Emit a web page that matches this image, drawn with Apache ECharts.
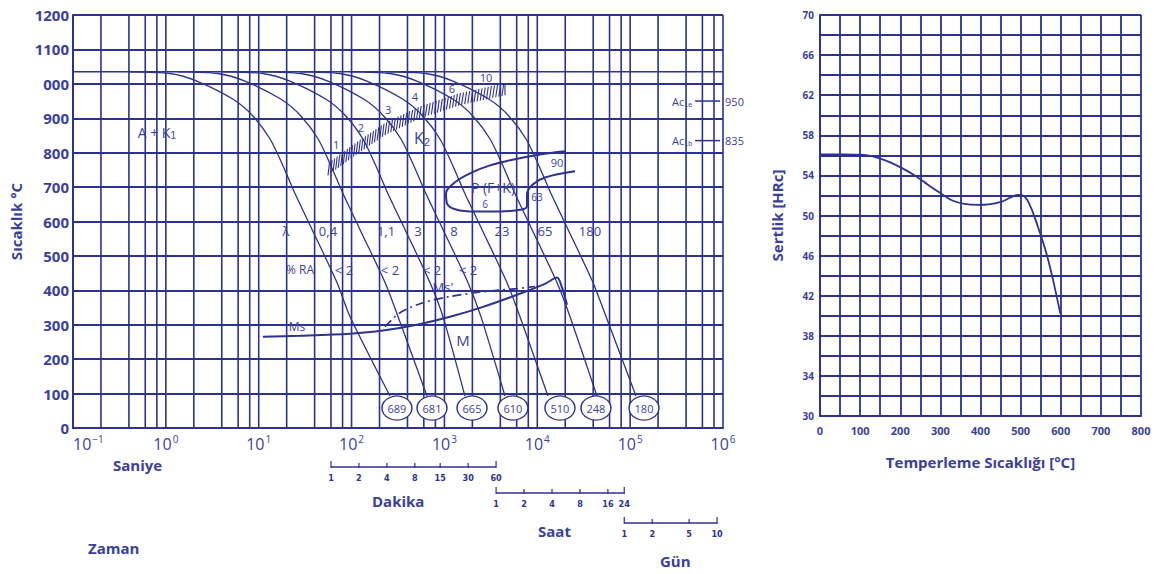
<!DOCTYPE html>
<html><head><meta charset="utf-8">
<script src="https://cdn.jsdelivr.net/npm/echarts@6/dist/echarts.min.js"></script>
<style>html,body{margin:0;padding:0;background:#fff}#c{width:1162px;height:574px}</style>
</head><body><div id="c"></div>
<script>
const INK = '#2d3190';
const TXT = '#3a3f9c';
const FONT = '"Open Sans","Noto Sans",sans-serif';

// ---------- left chart (CCT diagram): time [s] (log) vs temperature [°C]
const yTickLabels = ['0','100','200','300','400','500','600','700','800','900','000','1100','1200'];
const xTickExps = ['\u22121','0','1','2','3','4','5','6'];
const austenitizeTemp = 1035;

const coolA = [[0.41,1035],[1.11,1030],[2.16,1008],[5.3,955],[8.7,906],[13.3,839],[18.4,760],[24.8,679],[37.5,577],[69.8,422],[96.4,323],[259,93]];
const coolB = [[1.35,1035],[3.64,1030],[7.1,1008],[17.4,955],[28.6,906],[43.8,839],[60.4,760],[81.5,679],[123,577],[230,422],[317,323],[649,93]];
const coolC = [[4.12,1035],[11.1,1030],[21.6,1008],[53.1,955],[87.1,906],[133,839],[184,760],[248,679],[376,577],[700,422],[966,323],[1663,93]];
const coolD = [[10.6,1035],[28.4,1030],[55.5,1008],[136,955],[223,906],[342,839],[472,760],[637,679],[964,577],[1795,422],[2477,323],[4487,93]];
const coolE = [[27.8,1035],[74.8,1030],[146,1008],[358,955],[587,906],[899,839],[1242,760],[1675,679],[2535,577],[4721,422],[6516,323],[13030,93]];
const coolF = [[96.2,1035],[259,1030],[505,1008],[1239,955],[2032,906],[3112,839],[4295,760],[5794,679],[8770,577],[16330,422],[22540,323],[43950,93]];
const coolG = [[235,1035],[632,1030],[1233,1008],[3027,955],[4966,906],[7603,839],[10500,760],[14160,679],[21430,577],[39900,422],[55080,323],[115600,93]];

const msLine = [[11.1,265],[27.9,268],[96,274],[218,283],[506,300],[1148,323],[2603,352],[6040,387],[12100,419],[16300,437],[18460,408],[20900,358]];
const msPrimeLine = [[229,294],[332,335],[587,364],[1148,382],[2603,396],[6040,405],[9440,411]];
const pearliteNose = [[19860,804],[10690,795],[5750,781],[3100,763],[1885,740],[1300,714],[1040,682],[1067,652],[1330,635],[2133,629],[3963,629],[6839,635],[7745,644],[7745,679],[8990,708],[12100,728],[25470,746]];

const bandTimes = [55.7,109,229,546,1472,4487];
const bandLow   = [734,792,851,900,938,967];
const bandHigh  = [769,827,886,935,973,1002];

const circleHV = [689,681,665,610,510,248,180];
const circleTimes = [308,735,1982,5470,17540,42850,141000];
const circleTemp = 58;

const acTemps = [950,835];
const acSubs = ['1e','1b'];

const noteTexts = ['A + K{s|1}','K{s|2}','P (F+K)','\u03bb','0,4','1,1','3','8','23','65','180',
  '% RA','< 2','< 2','< 2','< 2','Ms','Ms\'','M','1','2','3','4','6','10','90','63','6'];
const noteTimes = [0.80,573,3334,19.7,55.7,235,519,1268,4169,12100,36980,
  27.9,82.8,259,735,1795,25.8,964,1585,68,126,247,482,1205,2806,16300,9930,2735];
const noteTemps = [859,842,699,571,571,571,571,571,571,571,571,
  460,460,460,460,460,294,411,256,824,874,926,964,985,1017,772,670,650];
const noteSizes = [14,16,14,13,13,13,13,13,13,13,13,12,13,13,13,13,12,13,15,11,11,11,11,11,11,11,10,10];

const minuteTicks = [1,2,4,8,15,30,60];
const hourTicks = [1,2,4,8,16,24];
const dayTicks = [1,2,5,10];

// ---------- right chart: tempering curve
const temperTemps = [0,60,110,140,175,210,240,268,290,309,330,360,392,420,451,475,492,505,521,542,563,580,599];
const hardnessHRC = [56.1,56.1,56.05,55.8,55.3,54.6,53.9,53.1,52.5,52.0,51.5,51.15,51.05,51.1,51.35,51.8,52.05,52.0,51.2,49.0,46.4,43.7,40.2];

// vertical grid of the log axis: 2,4,6,8,10 per decade
const gridTimes = [0.1];
for (let e = -1; e <= 5; e++) for (const m of [2,4,6,8,10]) gridTimes.push(+(m * Math.pow(10, e)).toPrecision(3));

function along(pts, f) {
  const seg = []; let L = 0;
  for (let i = 1; i < pts.length; i++) { const d = Math.hypot(pts[i][0]-pts[i-1][0], pts[i][1]-pts[i-1][1]); seg.push(d); L += d; }
  let t = Math.max(0, Math.min(1, f)) * L;
  for (let i = 0; i < seg.length; i++) {
    if (t <= seg[i] || i === seg.length - 1) {
      const r = Math.min(1, t / seg[i]);
      return [pts[i][0] + (pts[i+1][0]-pts[i][0])*r, pts[i][1] + (pts[i+1][1]-pts[i][1])*r];
    }
    t -= seg[i];
  }
}

const curveStyle = { color: INK, width: 1.3 };
function cool(data) {
  return { type: 'line', data, xAxisIndex: 0, yAxisIndex: 0, symbol: 'none', smooth: 0.25,
    lineStyle: curveStyle, z: 3, silent: true };
}

const chart = echarts.init(document.getElementById('c'), null, { renderer: 'svg' });
chart.setOption({
  animation: false,
  backgroundColor: '#fff',
  grid: [
    { left: 73, right: 439, top: 15, bottom: 146 },
    { left: 820, right: 21, top: 15, bottom: 158 }
  ],
  xAxis: [
    { type: 'log', logBase: 10, min: 0.1, max: 1e6, interval: 1, gridIndex: 0,
      axisLine: { show: true, lineStyle: { color: INK, width: 2 } },
      axisTick: { show: false }, splitLine: { show: false },
      axisLabel: { margin: 6, color: TXT, fontFamily: FONT, alignMinLabel: 'left',
        formatter: v => '{b|10}{s|' + xTickExps[Math.round(Math.log10(v)) + 1] + '}',
        rich: { b: { fontSize: 16, color: TXT, fontFamily: FONT }, s: { fontSize: 10, color: TXT, fontFamily: FONT, padding: [0,0,10,1] } } } },
    { type: 'value', min: 0, max: 800, interval: 50, gridIndex: 1,
      name: 'Temperleme Sıcaklığı [°C]', nameLocation: 'middle', nameGap: 38,
      nameTextStyle: { color: TXT, fontSize: 15, fontWeight: 'bold', fontFamily: FONT },
      axisLine: { show: true, lineStyle: { color: INK, width: 2 } },
      axisTick: { show: false },
      splitLine: { show: true, lineStyle: { color: INK, width: 1.8 } },
      axisLabel: { color: TXT, fontSize: 11, fontWeight: 'bold', fontFamily: FONT, margin: 9,
        formatter: v => (v % 100 === 0 ? String(v) : '') } }
  ],
  yAxis: [
    { type: 'value', min: 0, max: 1200, interval: 100, gridIndex: 0,
      name: 'Sıcaklık °C', nameLocation: 'middle', nameGap: 50,
      nameTextStyle: { color: TXT, fontSize: 15, fontWeight: 'bold', fontFamily: FONT },
      axisLine: { show: true, lineStyle: { color: INK, width: 2 } },
      axisTick: { show: false },
      splitLine: { show: true, lineStyle: { color: INK, width: 1.8 } },
      axisLabel: { color: TXT, fontSize: 15, fontWeight: 'bold', fontFamily: FONT, margin: 4,
        formatter: v => yTickLabels[Math.round(v / 100)] } },
    { type: 'value', min: 30, max: 70, interval: 2, gridIndex: 1,
      name: 'Sertlik [HRc]', nameLocation: 'middle', nameGap: 36,
      nameTextStyle: { color: TXT, fontSize: 15, fontWeight: 'bold', fontFamily: FONT },
      axisLine: { show: true, lineStyle: { color: INK, width: 2 } },
      axisTick: { show: false },
      splitLine: { show: true, lineStyle: { color: INK, width: 1.8 } },
      axisLabel: { color: TXT, fontSize: 10, fontWeight: 'bold', fontFamily: FONT, margin: 6,
        formatter: v => ((v - 30) % 4 === 0 ? String(v) : '') } }
  ],
  graphic: [
    { type: 'text', left: 113, top: 457, style: { text: 'Saniye', fill: TXT, font: 'bold 15px ' + FONT } },
    { type: 'text', left: 88, top: 540, style: { text: 'Zaman', fill: TXT, font: 'bold 15px ' + FONT } },
    { type: 'text', left: 372, top: 493, style: { text: 'Dakika', fill: TXT, font: 'bold 15px ' + FONT } },
    { type: 'text', left: 538, top: 523, style: { text: 'Saat', fill: TXT, font: 'bold 15px ' + FONT } },
    { type: 'text', left: 660, top: 553, style: { text: 'Gün', fill: TXT, font: 'bold 15px ' + FONT } }
  ],
  series: [
    { type: 'custom', xAxisIndex: 0, yAxisIndex: 0, silent: true, z: 1,
      data: gridTimes.map(v => [v, 0]),
      renderItem: (p, api) => {
        const a = api.coord([api.value(0), 0]), b = api.coord([api.value(0), 1200]);
        return { type: 'line', shape: { x1: a[0], y1: a[1], x2: b[0], y2: b[1] }, style: { stroke: INK, lineWidth: 1.6 } };
      } },
    { type: 'line', xAxisIndex: 0, yAxisIndex: 0, symbol: 'none', silent: true, z: 2,
      data: [[0.1, austenitizeTemp], [1e6, austenitizeTemp]], lineStyle: { color: INK, width: 1.6 } },
    cool(coolA), cool(coolB), cool(coolC), cool(coolD), cool(coolE), cool(coolF), cool(coolG),
    { type: 'line', xAxisIndex: 0, yAxisIndex: 0, symbol: 'none', smooth: 0.3, silent: true, z: 3,
      data: msLine, lineStyle: { color: INK, width: 2 } },
    { type: 'line', xAxisIndex: 0, yAxisIndex: 0, symbol: 'none', smooth: 0.3, silent: true, z: 3,
      data: msPrimeLine, lineStyle: { color: INK, width: 1.6, type: [9, 4, 2, 4] } },
    { type: 'line', xAxisIndex: 0, yAxisIndex: 0, symbol: 'none', smooth: 0.35, silent: true, z: 3,
      data: pearliteNose, lineStyle: { color: INK, width: 2 } },
    { type: 'custom', xAxisIndex: 0, yAxisIndex: 0, silent: true, z: 4, data: [[1, 0]],
      renderItem: (p, api) => {
        const lo = bandTimes.map((t, i) => api.coord([t, bandLow[i]]));
        const hi = bandTimes.map((t, i) => api.coord([t, bandHigh[i]]));
        const ch = []; const N = 62;
        for (let k = 0; k <= N; k++) {
          const f = k / N; const a = along(lo, f); const b = along(hi, f + 0.01);
          ch.push({ type: 'line', shape: { x1: a[0], y1: a[1], x2: b[0], y2: b[1] }, style: { stroke: INK, lineWidth: 1.1 } });
        }
        return { type: 'group', children: ch };
      } },
    { type: 'custom', xAxisIndex: 0, yAxisIndex: 0, silent: true, z: 4, data: [[1, 0]], clip: false,
      renderItem: (p, api) => {
        const ch = [];
        acTemps.forEach((T, i) => {
          const a = api.coord([5.0e5, T]), b = api.coord([9.3e5, T]);
          ch.push({ type: 'line', shape: { x1: a[0], y1: a[1], x2: b[0], y2: b[1] }, style: { stroke: INK, lineWidth: 1.5 } });
          ch.push({ type: 'text', x: a[0] - 3, y: a[1], style: { text: 'Ac{s|' + acSubs[i] + '}', fill: TXT, font: '11px ' + FONT, align: 'right', verticalAlign: 'middle',
            rich: { s: { fontSize: 7, fill: TXT, padding: [6, 0, 0, 0] } } } });
          ch.push({ type: 'text', x: b[0] + 5, y: b[1], style: { text: String(T), fill: TXT, font: '11px ' + FONT, align: 'left', verticalAlign: 'middle' } });
        });
        return { type: 'group', children: ch };
      } },
    { type: 'scatter', xAxisIndex: 0, yAxisIndex: 0, silent: true, z: 5,
      data: circleTimes.map((t, i) => [t, circleTemp, circleHV[i]]),
      symbol: 'circle', symbolSize: [30, 24],
      itemStyle: { color: '#fff', borderColor: INK, borderWidth: 1.3, opacity: 1 },
      label: { show: true, position: 'inside', formatter: p => String(p.value[2]), color: TXT, fontSize: 11, fontFamily: FONT } },
    { type: 'custom', xAxisIndex: 0, yAxisIndex: 0, silent: true, z: 6, data: [[1, 0]], clip: false,
      renderItem: (p, api) => {
        const ch = noteTexts.map((txt, i) => {
          const c = api.coord([noteTimes[i], noteTemps[i]]);
          return { type: 'text', x: c[0], y: c[1], style: { text: txt, fill: TXT, font: noteSizes[i] + 'px ' + FONT, align: 'center', verticalAlign: 'middle',
            rich: { s: { fontSize: Math.round(noteSizes[i] * 0.7), fill: TXT, padding: [7, 0, 0, 0] } } } };
        });
        return { type: 'group', children: ch };
      } },
    { type: 'custom', xAxisIndex: 0, yAxisIndex: 0, silent: true, z: 6, data: [[1, 0]], clip: false,
      renderItem: (p, api) => {
        const scales = [
          { ticks: minuteTicks, sec: 60, y: 467 },
          { ticks: hourTicks, sec: 3600, y: 493 },
          { ticks: dayTicks, sec: 86400, y: 523 }
        ];
        const ch = [];
        scales.forEach(sc => {
          const xs = sc.ticks.map(v => api.coord([v * sc.sec, 0])[0]);
          ch.push({ type: 'line', shape: { x1: xs[0], y1: sc.y, x2: xs[xs.length - 1], y2: sc.y }, style: { stroke: INK, lineWidth: 1.4 } });
          xs.forEach((x, i) => {
            const end = i === 0 || i === xs.length - 1;
            ch.push({ type: 'line', shape: { x1: x, y1: sc.y - (end ? 6 : 4), x2: x, y2: sc.y + 1 }, style: { stroke: INK, lineWidth: 1.2 } });
            ch.push({ type: 'text', x: x, y: sc.y + 6, style: { text: String(sc.ticks[i]), fill: INK, font: 'bold 9px "Liberation Sans Narrow","DejaVu Sans Condensed",sans-serif', align: 'center', verticalAlign: 'top' } });
          });
        });
        return { type: 'group', children: ch };
      } },
    { type: 'line', xAxisIndex: 1, yAxisIndex: 1, symbol: 'none', smooth: 0.4, silent: true, z: 3,
      data: temperTemps.map((x, i) => [x, hardnessHRC[i]]), lineStyle: { color: INK, width: 1.8 } }
  ]
});
</script></body></html>
